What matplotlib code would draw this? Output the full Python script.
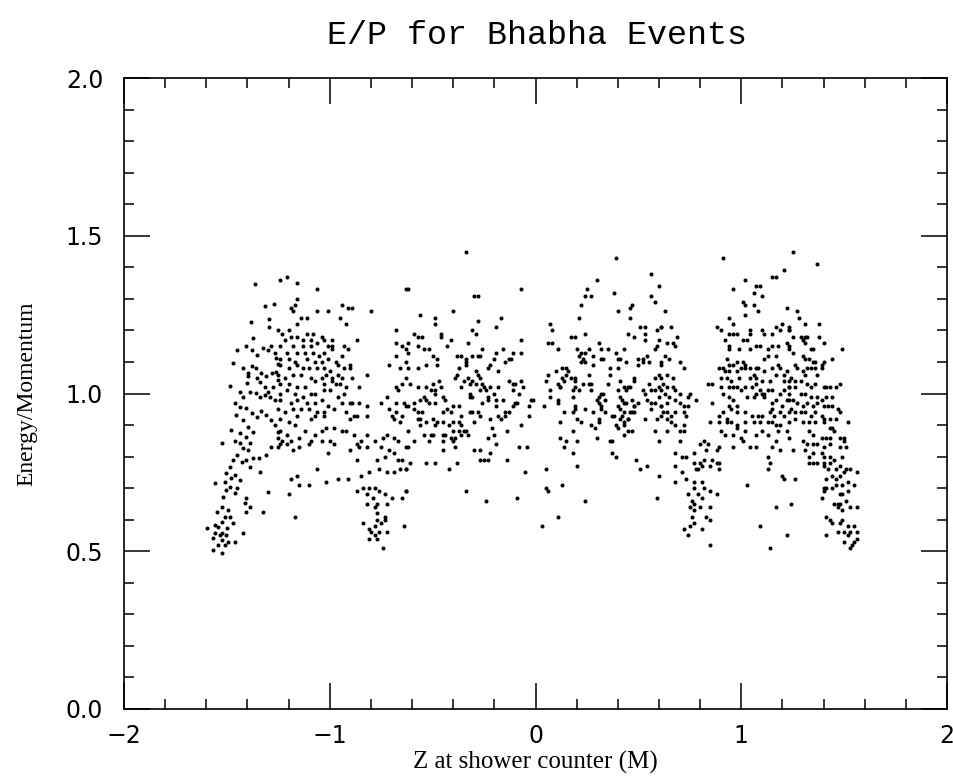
import numpy as np
import matplotlib.pyplot as plt
from matplotlib.ticker import MultipleLocator, FormatStrFormatter

# (Z [m], E/P), band by band from left to right
band1 = [(-1.364, 1.347), (-1.316, 1.276), (-1.272, 1.283), (-1.296, 1.235), (-1.296, 1.210), (-1.385, 1.226),
         (-1.372, 1.177), (-1.453, 1.138), (-1.405, 1.151), (-1.380, 1.138), (-1.356, 1.122), (-1.324, 1.143),
         (-1.300, 1.138), (-1.288, 1.151), (-1.267, 1.128), (-1.262, 1.112), (-1.251, 1.094), (-1.470, 1.096),
         (-1.424, 1.080), (-1.397, 1.066), (-1.376, 1.087), (-1.359, 1.082), (-1.332, 1.064), (-1.308, 1.054),
         (-1.283, 1.064), (-1.259, 1.069), (-1.397, 1.054), (-1.402, 1.032), (-1.486, 1.025), (-1.356, 1.048),
         (-1.340, 1.038), (-1.316, 1.022), (-1.300, 1.006), (-1.275, 1.022), (-1.251, 1.043), (-1.437, 1.006),
         (-1.421, 0.990), (-1.389, 1.006), (-1.359, 1.001), (-1.340, 0.990), (-1.316, 0.995), (-1.292, 0.990),
         (-1.267, 0.980), (-1.461, 0.969), (-1.437, 0.958), (-1.405, 0.953), (-1.380, 0.937), (-1.356, 0.927),
         (-1.332, 0.943), (-1.308, 0.932), (-1.288, 0.916), (-1.267, 0.900), (-1.251, 0.879), (-1.421, 0.916),
         (-1.397, 0.895), (-1.372, 0.879), (-1.457, 0.932), (-1.478, 0.885), (-1.437, 0.874), (-1.405, 0.863),
         (-1.389, 0.842), (-1.437, 0.842), (-1.461, 0.848), (-1.523, 0.842), (-1.421, 0.826), (-1.397, 0.821),
         (-1.453, 0.805), (-1.405, 0.789), (-1.372, 0.795), (-1.343, 0.795), (-1.311, 0.805), (-1.288, 0.832),
         (-1.251, 0.832), (-1.470, 0.789), (-1.486, 0.768), (-1.429, 0.784), (-1.389, 0.768), (-1.340, 0.752),
         (-1.502, 0.747), (-1.461, 0.742), (-1.478, 0.731), (-1.437, 0.726), (-1.510, 0.721), (-1.486, 0.705),
         (-1.453, 0.700), (-1.558, 0.716), (-1.502, 0.694), (-1.461, 0.684), (-1.405, 0.668), (-1.518, 0.673),
         (-1.300, 0.689), (-1.413, 0.652), (-1.389, 0.641), (-1.324, 0.626), (-1.526, 0.641), (-1.494, 0.631),
         (-1.405, 0.626), (-1.550, 0.626), (-1.510, 0.610), (-1.486, 0.610), (-1.526, 0.594), (-1.558, 0.583),
         (-1.542, 0.578), (-1.499, 0.573), (-1.470, 0.589), (-1.599, 0.573), (-1.558, 0.557), (-1.526, 0.557),
         (-1.502, 0.552), (-1.421, 0.559), (-1.567, 0.541), (-1.526, 0.536), (-1.494, 0.530), (-1.461, 0.530),
         (-1.542, 0.520), (-1.510, 0.520), (-1.567, 0.504), (-1.526, 0.493), (-1.534, 0.552)]

band2 = [(-1.24, 1.36), (-1.21, 1.37), (-1.16, 1.35), (-1.06, 1.33), (-1.19, 1.27), (-1.18, 1.26), (-1.16, 1.30),
         (-1.17, 1.28), (-1.06, 1.26), (-1.01, 1.26), (-0.94, 1.28), (-0.91, 1.27), (-0.89, 1.27), (-0.95, 1.24),
         (-0.92, 1.22), (-0.80, 1.26), (-0.63, 1.33), (-1.14, 1.24), (-1.11, 1.24), (-1.16, 1.22),
         (-1.25, 1.20), (-1.23, 1.19), (-1.20, 1.20), (-1.19, 1.18), (-1.16, 1.18), (-1.11, 1.19), (-1.08, 1.19),
         (-1.04, 1.18), (-1.03, 1.17), (-1.22, 1.17), (-1.13, 1.17), (-1.09, 1.17), (-0.99, 1.17), (-0.87, 1.17),
         (-0.68, 1.20), (-1.24, 1.15), (-1.18, 1.15), (-1.13, 1.15), (-1.09, 1.15), (-1.06, 1.16), (-1.01, 1.15),
         (-0.99, 1.15), (-0.99, 1.14), (-0.93, 1.15), (-0.91, 1.14), (-1.21, 1.13), (-1.16, 1.13), (-1.12, 1.13),
         (-1.08, 1.13), (-1.05, 1.12), (-1.03, 1.13), (-0.94, 1.12), (-0.68, 1.16), (-0.65, 1.15), (-0.63, 1.14),
         (-0.68, 1.12), (-1.24, 1.11), (-1.20, 1.11), (-1.17, 1.10), (-1.11, 1.11), (-1.07, 1.10), (-1.04, 1.10),
         (-1.01, 1.11), (-0.97, 1.10), (-0.90, 1.09), (-1.24, 1.09), (-1.20, 1.08), (-1.16, 1.09), (-1.13, 1.08),
         (-1.10, 1.08), (-1.06, 1.08), (-1.03, 1.08), (-1.00, 1.07), (-0.96, 1.09), (-0.93, 1.08), (-0.90, 1.08),
         (-0.82, 1.06), (-0.71, 1.09), (-0.66, 1.08), (-0.63, 1.10), (-0.96, 1.06), (-1.25, 1.06), (-1.22, 1.05),
         (-1.18, 1.06), (-1.14, 1.06), (-1.09, 1.05), (-1.04, 1.05), (-1.02, 1.06), (-0.99, 1.05), (-0.94, 1.05),
         (-0.89, 1.05), (-1.24, 1.03), (-1.20, 1.03), (-1.16, 1.02), (-1.12, 1.02), (-1.07, 1.04), (-1.03, 1.03),
         (-0.99, 1.04), (-0.97, 1.03), (-0.95, 1.03), (-0.92, 1.02), (-0.86, 1.02), (-0.68, 1.02), (-0.67, 1.01),
         (-0.63, 1.05), (-0.65, 1.03), (-1.24, 1.00), (-1.21, 1.01), (-1.17, 1.00), (-1.13, 0.99), (-1.09, 1.00),
         (-1.07, 1.00), (-1.03, 1.01), (-1.00, 1.01), (-0.96, 0.99), (-0.93, 1.00), (-0.90, 0.97), (-0.89, 0.97),
         (-0.86, 0.97), (-0.82, 0.96), (-1.24, 0.98), (-1.19, 0.97), (-1.16, 0.98), (-1.11, 0.97), (-1.07, 0.97),
         (-1.04, 0.98), (-1.01, 0.96), (-0.94, 0.97), (-0.75, 0.97), (-0.72, 0.99), (-0.68, 0.97), (-0.64, 0.97),
         (-1.25, 0.95), (-1.22, 0.94), (-1.18, 0.95), (-1.14, 0.95), (-1.10, 0.95), (-1.06, 0.94), (-1.03, 0.94),
         (-0.98, 0.95), (-0.92, 0.94), (-0.87, 0.93), (-1.24, 0.92), (-1.20, 0.91), (-1.16, 0.93), (-1.09, 0.92),
         (-1.07, 0.93), (-1.03, 0.93), (-0.90, 0.92), (-0.88, 0.93), (-0.82, 0.93), (-0.71, 0.95), (-0.70, 0.93),
         (-0.68, 0.94), (-0.65, 0.93), (-0.63, 0.96), (-0.69, 0.92), (-0.66, 0.91), (-1.24, 0.88), (-1.21, 0.87),
         (-1.17, 0.90), (-1.12, 0.88), (-1.07, 0.87), (-1.04, 0.88), (-1.02, 0.89), (-0.98, 0.89), (-0.94, 0.88),
         (-0.88, 0.87), (-1.25, 0.86), (-1.23, 0.85), (-1.19, 0.85), (-1.15, 0.86), (-1.09, 0.85), (-1.10, 0.84),
         (-1.04, 0.85), (-1.00, 0.85), (-0.98, 0.84), (-0.92, 0.88), (-0.85, 0.85), (-0.82, 0.87), (-0.78, 0.85),
         (-0.74, 0.86), (-0.72, 0.87), (-0.69, 0.86), (-0.67, 0.85), (-0.63, 0.83), (-0.87, 0.84), (-0.75, 0.83),
         (-1.24, 0.84), (-1.21, 0.84), (-1.18, 0.82), (-1.15, 0.83), (-1.01, 0.81), (-0.90, 0.82), (-0.87, 0.79),
         (-0.86, 0.83), (-0.82, 0.83), (-0.77, 0.79), (-0.73, 0.80), (-0.71, 0.82), (-0.69, 0.81), (-0.67, 0.79),
         (-0.65, 0.79), (-1.06, 0.76), (-0.96, 0.73), (-0.91, 0.73), (-0.85, 0.74), (-0.81, 0.75), (-0.76, 0.76),
         (-0.72, 0.75), (-0.69, 0.75), (-0.66, 0.76), (-0.63, 0.76), (-1.16, 0.74), (-1.19, 0.73), (-1.15, 0.71),
         (-1.10, 0.71), (-1.02, 0.72), (-0.87, 0.69), (-0.84, 0.70), (-0.81, 0.70), (-0.78, 0.70), (-0.76, 0.69),
         (-0.73, 0.68), (-0.70, 0.67), (-0.65, 0.67), (-0.63, 0.69), (-1.20, 0.68), (-0.82, 0.68), (-0.79, 0.67),
         (-0.77, 0.65), (-0.72, 0.65), (-0.82, 0.65), (-0.78, 0.64), (-0.77, 0.62), (-0.73, 0.61), (-0.77, 0.60),
         (-0.75, 0.59), (-0.73, 0.60), (-0.84, 0.59), (-0.78, 0.58), (-1.17, 0.61), (-0.64, 0.58), (-0.81, 0.57),
         (-0.80, 0.56), (-0.78, 0.55), (-0.76, 0.56), (-0.72, 0.56), (-0.81, 0.54), (-0.77, 0.54), (-0.74, 0.51)]

band3 = [(-0.34, 1.45), (-0.62, 1.33), (-0.07, 1.33), (-0.30, 1.31), (-0.28, 1.31), (-0.40, 1.26), (-0.56, 1.25),
         (-0.49, 1.24), (-0.49, 1.22), (-0.17, 1.24), (-0.28, 1.23), (-0.19, 1.21), (-0.31, 1.20), (-0.29, 1.19),
         (-0.46, 1.19), (-0.46, 1.18), (-0.59, 1.19), (-0.57, 1.18), (-0.55, 1.18), (-0.41, 1.17), (-0.07, 1.17),
         (-0.62, 1.16), (-0.62, 1.13), (-0.57, 1.15), (-0.54, 1.14), (-0.52, 1.14), (-0.50, 1.12), (-0.43, 1.15),
         (-0.33, 1.16), (-0.26, 1.14), (-0.27, 1.12), (-0.28, 1.12), (-0.36, 1.12), (-0.38, 1.12), (-0.34, 1.11),
         (-0.34, 1.10), (-0.34, 1.09), (-0.31, 1.12), (-0.48, 1.11), (-0.16, 1.14), (-0.19, 1.13), (-0.11, 1.13),
         (-0.07, 1.13), (-0.13, 1.11), (-0.15, 1.10), (-0.12, 1.11), (-0.20, 1.11), (-0.22, 1.09), (-0.23, 1.08),
         (-0.62, 1.08), (-0.57, 1.08), (-0.53, 1.09), (-0.48, 1.09), (-0.37, 1.08), (-0.38, 1.06), (-0.29, 1.07),
         (-0.28, 1.06), (-0.27, 1.05), (-0.39, 1.05), (-0.33, 1.05), (-0.31, 1.04), (-0.18, 1.07), (-0.13, 1.04),
         (-0.11, 1.03), (-0.07, 1.04), (-0.06, 1.02), (-0.10, 1.03), (-0.61, 1.03), (-0.57, 1.02), (-0.53, 1.02),
         (-0.50, 1.03), (-0.47, 1.04), (-0.46, 1.02), (-0.51, 1.01), (-0.49, 1.00), (-0.49, 1.01), (-0.35, 1.04),
         (-0.36, 1.02), (-0.32, 1.03), (-0.29, 1.03), (-0.26, 1.03), (-0.25, 1.02), (-0.24, 1.01), (-0.22, 1.02),
         (-0.18, 1.02), (-0.11, 1.01), (-0.32, 1.00), (-0.31, 0.99), (-0.32, 0.99), (-0.27, 1.01), (-0.23, 0.99),
         (-0.20, 1.00), (-0.19, 0.98), (-0.23, 0.98), (-0.26, 0.97), (-0.19, 0.96), (-0.16, 0.98), (-0.08, 1.00),
         (-0.10, 0.97), (-0.11, 0.96), (-0.02, 0.98), (-0.62, 0.96), (-0.59, 0.97), (-0.56, 0.98), (-0.53, 0.98),
         (-0.52, 0.97), (-0.49, 0.97), (-0.45, 0.99), (-0.44, 0.98), (-0.54, 0.99), (-0.43, 0.95), (-0.45, 0.94),
         (-0.40, 0.96), (-0.37, 0.96), (-0.36, 0.93), (-0.32, 0.94), (-0.31, 0.94), (-0.28, 0.94), (-0.27, 0.93),
         (-0.30, 0.91), (-0.22, 0.92), (-0.18, 0.93), (-0.15, 0.94), (-0.13, 0.94), (-0.17, 0.92), (-0.21, 0.89),
         (-0.20, 0.87), (-0.15, 0.93), (-0.09, 0.97), (-0.59, 0.95), (-0.57, 0.94), (-0.55, 0.94), (-0.56, 0.92),
         (-0.57, 0.92), (-0.56, 0.90), (-0.53, 0.91), (-0.50, 0.92), (-0.48, 0.91), (-0.45, 0.91), (-0.41, 0.94),
         (-0.40, 0.91), (-0.42, 0.90), (-0.37, 0.91), (-0.36, 0.90), (-0.34, 0.88), (-0.37, 0.88), (-0.36, 0.87),
         (-0.35, 0.88), (-0.40, 0.88), (-0.39, 0.86), (-0.49, 0.90), (-0.62, 0.88), (-0.59, 0.85), (-0.54, 0.87),
         (-0.51, 0.87), (-0.50, 0.87), (-0.52, 0.85), (-0.45, 0.87), (-0.44, 0.87), (-0.45, 0.85), (-0.41, 0.86),
         (-0.40, 0.85), (-0.39, 0.83), (-0.33, 0.87), (-0.23, 0.86), (-0.19, 0.84), (-0.14, 0.88), (-0.03, 0.96),
         (-0.03, 0.93), (-0.07, 0.90), (-0.08, 0.83), (-0.04, 0.83), (-0.62, 0.83), (-0.63, 0.76), (-0.53, 0.78),
         (-0.49, 0.78), (-0.61, 0.78), (-0.45, 0.82), (-0.42, 0.76), (-0.38, 0.78), (-0.30, 0.82), (-0.27, 0.82),
         (-0.27, 0.79), (-0.25, 0.79), (-0.23, 0.79), (-0.22, 0.81), (-0.14, 0.79), (-0.05, 0.75), (-0.34, 0.69),
         (-0.24, 0.66), (-0.09, 0.67), (-0.63, 0.69)]

band4 = [(0.39, 1.43), (0.56, 1.38), (0.30, 1.36), (0.60, 1.34), (0.25, 1.33), (0.38, 1.32), (0.24, 1.31),
         (0.27, 1.31), (0.56, 1.31), (0.58, 1.29), (0.22, 1.28), (0.47, 1.28), (0.46, 1.27), (0.40, 1.26),
         (0.21, 1.24), (0.46, 1.24), (0.07, 1.22), (0.08, 1.20), (0.24, 1.19), (0.17, 1.18), (0.19, 1.18),
         (0.48, 1.18), (0.45, 1.19), (0.51, 1.21), (0.53, 1.21), (0.59, 1.20), (0.61, 1.21), (0.53, 1.19),
         (0.53, 1.17), (0.60, 1.17), (0.06, 1.16), (0.08, 1.16), (0.11, 1.14), (0.31, 1.16), (0.20, 1.14),
         (0.22, 1.13), (0.21, 1.12), (0.24, 1.13), (0.26, 1.14), (0.28, 1.12), (0.32, 1.14), (0.35, 1.14),
         (0.39, 1.13), (0.43, 1.14), (0.40, 1.11), (0.41, 1.11), (0.52, 1.11), (0.54, 1.12), (0.50, 1.11),
         (0.58, 1.14), (0.59, 1.15), (0.23, 1.11), (0.22, 1.10), (0.24, 1.10), (0.28, 1.09), (0.32, 1.11),
         (0.33, 1.11), (0.36, 1.08), (0.40, 1.08), (0.44, 1.10), (0.50, 1.09), (0.52, 1.10), (0.55, 1.10),
         (0.61, 1.10), (0.13, 1.08), (0.15, 1.08), (0.16, 1.07), (0.15, 1.06), (0.13, 1.05), (0.17, 1.05),
         (0.19, 1.05), (0.10, 1.07), (0.06, 1.06), (0.26, 1.06), (0.36, 1.06), (0.48, 1.04), (0.48, 1.05),
         (0.55, 1.03), (0.58, 1.05), (0.60, 1.06), (0.05, 1.04), (0.11, 1.03), (0.12, 1.02), (0.14, 1.04),
         (0.19, 1.04), (0.19, 1.02), (0.23, 1.03), (0.26, 1.03), (0.27, 1.03), (0.35, 1.03), (0.41, 1.04),
         (0.43, 1.02), (0.45, 1.02), (0.46, 1.02), (0.40, 1.01), (0.44, 1.01), (0.52, 1.01), (0.53, 1.00),
         (0.56, 1.01), (0.58, 1.01), (0.60, 1.02), (0.61, 1.01), (0.07, 1.01), (0.07, 0.99), (-0.01, 0.98),
         (0.12, 1.02), (0.18, 1.01), (0.21, 1.01), (0.27, 1.01), (0.32, 1.00), (0.31, 0.99), (0.33, 1.00),
         (0.34, 0.98), (0.30, 0.98), (0.31, 0.97), (0.32, 0.96), (0.41, 0.99), (0.42, 0.98), (0.43, 0.97),
         (0.40, 0.96), (0.44, 0.97), (0.47, 0.98), (0.48, 0.96), (0.50, 0.97), (0.54, 0.98), (0.56, 0.97),
         (0.58, 0.97), (0.60, 0.99), (0.61, 0.96), (0.04, 0.96), (0.11, 0.98), (0.11, 0.97), (0.18, 0.99),
         (0.19, 0.96), (0.14, 0.94), (0.18, 0.94), (0.19, 0.95), (0.24, 0.95), (0.28, 0.94), (0.32, 0.95),
         (0.34, 0.94), (0.41, 0.95), (0.42, 0.93), (0.43, 0.94), (0.45, 0.92), (0.46, 0.94), (0.47, 0.94),
         (0.48, 0.94), (0.48, 0.96), (0.53, 0.92), (0.56, 0.95), (0.59, 0.92), (0.61, 0.93), (0.20, 0.92),
         (0.22, 0.91), (0.27, 0.90), (0.29, 0.89), (0.31, 0.91), (0.31, 0.92), (0.37, 0.93), (0.38, 0.93),
         (0.41, 0.92), (0.43, 0.91), (0.43, 0.90), (0.40, 0.89), (0.45, 0.92), (0.45, 0.88), (0.47, 0.88),
         (0.43, 0.87), (0.39, 0.90), (0.12, 0.91), (0.18, 0.88), (0.20, 0.85), (0.30, 0.86), (0.36, 0.85),
         (0.37, 0.85), (0.12, 0.86), (0.15, 0.85), (0.14, 0.83), (0.18, 0.81), (0.20, 0.77), (0.58, 0.88),
         (0.60, 0.85), (0.37, 0.81), (0.39, 0.80), (0.49, 0.79), (0.51, 0.76), (0.54, 0.77), (0.60, 0.74),
         (0.05, 0.76), (0.13, 0.71), (0.05, 0.70), (0.06, 0.69), (0.24, 0.66), (0.59, 0.67), (0.11, 0.61),
         (0.03, 0.58)]

band5 = [(0.91, 1.43), (1.21, 1.39), (1.15, 1.37), (1.17, 1.37), (1.02, 1.36), (0.96, 1.33), (1.07, 1.34),
         (1.09, 1.34), (1.06, 1.32), (1.10, 1.31), (1.01, 1.29), (1.02, 1.28), (1.08, 1.26), (1.22, 1.27),
         (0.63, 1.26), (1.06, 1.28), (1.02, 1.25), (0.94, 1.24), (0.88, 1.21), (0.96, 1.22), (0.90, 1.20),
         (0.61, 1.21), (0.66, 1.21), (0.69, 1.18), (0.67, 1.16), (0.68, 1.15), (0.64, 1.16), (0.92, 1.17),
         (0.94, 1.19), (0.96, 1.19), (0.98, 1.19), (0.94, 1.15), (1.01, 1.17), (1.03, 1.17), (1.04, 1.19),
         (1.04, 1.20), (1.10, 1.20), (1.11, 1.19), (1.15, 1.19), (1.17, 1.21), (1.19, 1.20), (1.20, 1.22),
         (1.23, 1.21), (1.23, 1.20), (0.99, 1.14), (0.94, 1.14), (1.04, 1.14), (1.07, 1.15), (1.09, 1.15),
         (1.13, 1.14), (1.15, 1.15), (1.18, 1.15), (1.22, 1.16), (1.23, 1.15), (0.63, 1.12), (0.65, 1.11),
         (0.61, 1.09), (0.70, 1.10), (0.72, 1.08), (0.93, 1.11), (0.94, 1.09), (0.96, 1.09), (0.98, 1.10),
         (1.01, 1.10), (1.02, 1.09), (1.11, 1.11), (1.13, 1.12), (1.17, 1.12), (0.89, 1.08), (0.91, 1.08),
         (0.92, 1.07), (0.94, 1.07), (0.98, 1.07), (1.00, 1.08), (1.02, 1.08), (1.04, 1.08), (1.07, 1.08),
         (1.06, 1.06), (1.08, 1.08), (1.11, 1.07), (1.15, 1.08), (1.18, 1.09), (1.19, 1.08), (1.22, 1.07),
         (0.61, 1.05), (0.64, 1.06), (0.67, 1.05), (0.62, 1.03), (0.64, 1.02), (0.67, 1.02), (0.90, 1.05),
         (0.93, 1.05), (0.95, 1.04), (0.99, 1.05), (1.04, 1.05), (1.07, 1.05), (1.10, 1.04), (1.14, 1.04),
         (1.17, 1.06), (1.21, 1.06), (1.21, 1.04), (1.23, 1.04), (0.63, 1.00), (0.68, 1.01), (0.70, 1.00),
         (0.75, 1.00), (0.74, 0.99), (0.86, 1.03), (0.84, 1.03), (0.90, 1.02), (0.94, 1.02), (0.96, 1.02),
         (0.98, 1.02), (1.00, 1.01), (1.02, 1.02), (1.05, 1.02), (1.07, 1.03), (1.09, 1.01), (1.11, 1.00),
         (1.13, 1.01), (1.15, 1.01), (1.19, 1.00), (1.21, 1.01), (1.23, 1.02), (0.61, 0.96), (0.64, 0.97),
         (0.65, 0.99), (0.68, 0.98), (0.70, 0.97), (0.72, 0.96), (0.74, 0.96), (0.78, 0.98), (0.86, 0.97),
         (0.91, 1.00), (0.94, 0.99), (0.96, 0.98), (0.94, 0.96), (0.98, 0.96), (1.03, 0.99), (1.06, 0.99),
         (1.07, 1.00), (1.10, 1.00), (1.11, 0.99), (1.15, 0.97), (1.17, 0.98), (1.20, 0.96), (1.22, 0.98),
         (1.23, 0.98), (0.62, 0.94), (0.64, 0.94), (0.66, 0.93), (0.68, 0.94), (0.72, 0.94), (0.73, 0.93),
         (0.89, 0.93), (0.91, 0.94), (0.93, 0.92), (0.95, 0.95), (0.98, 0.94), (1.02, 0.94), (1.05, 0.93),
         (1.08, 0.93), (1.10, 0.93), (1.14, 0.94), (1.15, 0.95), (1.16, 0.93), (1.19, 0.94), (1.21, 0.93),
         (1.23, 0.94), (0.64, 0.92), (0.66, 0.91), (0.72, 0.90), (0.70, 0.88), (0.72, 0.88), (0.85, 0.91),
         (0.89, 0.91), (0.93, 0.91), (0.95, 0.91), (0.98, 0.90), (1.02, 0.91), (1.06, 0.91), (1.09, 0.91),
         (1.13, 0.91), (1.15, 0.91), (1.17, 0.90), (1.19, 0.90), (1.23, 0.91), (0.64, 0.88), (0.68, 0.90),
         (0.70, 0.85), (0.80, 0.84), (0.82, 0.85), (0.90, 0.88), (0.92, 0.87), (0.96, 0.87), (0.98, 0.89),
         (1.02, 0.88), (1.07, 0.87), (1.10, 0.88), (1.13, 0.87), (1.18, 0.88), (1.22, 0.88), (1.23, 0.86),
         (0.84, 0.84), (0.89, 0.83), (0.96, 0.83), (1.00, 0.86), (1.01, 0.85), (1.04, 0.83), (1.07, 0.83),
         (1.15, 0.83), (1.17, 0.85), (1.19, 0.82), (0.68, 0.81), (0.71, 0.80), (0.73, 0.80), (0.77, 0.81),
         (0.83, 0.82), (0.88, 0.82), (0.77, 0.78), (0.80, 0.78), (0.81, 0.77), (0.82, 0.79), (0.86, 0.79),
         (0.88, 0.78), (0.89, 0.78), (0.89, 0.76), (0.68, 0.77), (0.71, 0.75), (0.78, 0.76), (0.79, 0.76),
         (0.85, 0.77), (1.13, 0.80), (1.14, 0.78), (1.13, 0.76), (1.20, 0.74), (1.21, 0.73), (0.68, 0.72),
         (0.73, 0.73), (0.77, 0.72), (0.81, 0.72), (0.77, 0.70), (0.74, 0.68), (0.79, 0.68), (0.81, 0.67),
         (0.85, 0.69), (0.88, 0.68), (0.82, 0.70), (1.03, 0.71), (0.76, 0.66), (0.77, 0.65), (0.75, 0.64),
         (0.80, 0.64), (0.77, 0.63), (0.85, 0.64), (0.76, 0.61), (0.83, 0.61), (0.85, 0.60), (0.77, 0.59),
         (0.75, 0.58), (0.81, 0.57), (0.72, 0.57), (0.74, 0.55), (1.09, 0.58), (1.17, 0.64), (1.22, 0.55),
         (0.85, 0.52), (1.14, 0.51)]

band6 = [(1.25, 1.45), (1.37, 1.41), (1.27, 1.26), (1.28, 1.24), (1.38, 1.22), (1.31, 1.22), (1.23, 1.20),
         (1.25, 1.18), (1.29, 1.18), (1.31, 1.18), (1.32, 1.18), (1.30, 1.17), (1.31, 1.16), (1.38, 1.18),
         (1.40, 1.16), (1.34, 1.14), (1.35, 1.14), (1.49, 1.14), (1.23, 1.14), (1.25, 1.13), (1.30, 1.12),
         (1.31, 1.11), (1.33, 1.11), (1.35, 1.10), (1.36, 1.10), (1.39, 1.09), (1.40, 1.10), (1.44, 1.11),
         (1.26, 1.09), (1.27, 1.08), (1.30, 1.07), (1.32, 1.08), (1.34, 1.08), (1.36, 1.08), (1.39, 1.08),
         (1.31, 1.06), (1.37, 1.06), (1.24, 1.05), (1.26, 1.04), (1.29, 1.04), (1.32, 1.03), (1.34, 1.02),
         (1.36, 1.03), (1.40, 1.02), (1.41, 1.02), (1.43, 1.02), (1.46, 1.02), (1.48, 1.03), (1.23, 1.02),
         (1.26, 1.02), (1.29, 1.00), (1.31, 1.00), (1.34, 0.99), (1.37, 0.99), (1.39, 0.98), (1.41, 0.99),
         (1.44, 0.99), (1.23, 1.00), (1.25, 0.98), (1.27, 0.97), (1.30, 0.96), (1.32, 0.97), (1.35, 0.96),
         (1.37, 0.97), (1.40, 0.96), (1.42, 0.96), (1.44, 0.96), (1.47, 0.95), (1.48, 0.94), (1.24, 0.95),
         (1.26, 0.94), (1.29, 0.94), (1.31, 0.94), (1.34, 0.93), (1.36, 0.94), (1.39, 0.93), (1.40, 0.92),
         (1.43, 0.92), (1.46, 0.92), (1.52, 0.91), (1.26, 0.92), (1.30, 0.91), (1.33, 0.91), (1.36, 0.91),
         (1.40, 0.91), (1.43, 0.89), (1.44, 0.89), (1.33, 0.88), (1.35, 0.87), (1.39, 0.86), (1.41, 0.86),
         (1.43, 0.86), (1.45, 0.88), (1.48, 0.86), (1.50, 0.86), (1.50, 0.85), (1.30, 0.85), (1.32, 0.84),
         (1.35, 0.84), (1.37, 0.84), (1.40, 0.83), (1.43, 0.84), (1.48, 0.83), (1.51, 0.83), (1.25, 0.82),
         (1.31, 0.82), (1.33, 0.80), (1.35, 0.81), (1.39, 0.81), (1.40, 0.80), (1.43, 0.80), (1.45, 0.79),
         (1.49, 0.80), (1.33, 0.78), (1.35, 0.78), (1.37, 0.78), (1.40, 0.78), (1.43, 0.78), (1.40, 0.77),
         (1.42, 0.76), (1.46, 0.76), (1.48, 0.77), (1.51, 0.76), (1.53, 0.76), (1.56, 0.75), (1.50, 0.75),
         (1.41, 0.73), (1.44, 0.74), (1.46, 0.73), (1.48, 0.74), (1.52, 0.72), (1.55, 0.71), (1.26, 0.73),
         (1.40, 0.70), (1.41, 0.70), (1.44, 0.70), (1.46, 0.71), (1.49, 0.71), (1.40, 0.69), (1.39, 0.67),
         (1.48, 0.68), (1.49, 0.68), (1.52, 0.69), (1.24, 0.65), (1.45, 0.65), (1.47, 0.65), (1.48, 0.65),
         (1.51, 0.66), (1.53, 0.64), (1.56, 0.64), (1.47, 0.64), (1.49, 0.63), (1.41, 0.61), (1.43, 0.60),
         (1.48, 0.59), (1.49, 0.60), (1.44, 0.59), (1.52, 0.58), (1.55, 0.58), (1.47, 0.56), (1.50, 0.56),
         (1.53, 0.56), (1.56, 0.56), (1.52, 0.55), (1.41, 0.55), (1.50, 0.53), (1.55, 0.53), (1.56, 0.54),
         (1.54, 0.52), (1.53, 0.51)]

bands = [band1, band2, band3, band4, band5, band6]
z = np.array([p[0] for b in bands for p in b])
ep = np.array([p[1] for b in bands for p in b])

fig = plt.figure(figsize=(9.54, 7.78), dpi=100)
ax = fig.add_axes([0.130, 0.0887, 0.8627, 0.811])

ax.plot(z, ep, 'o', color='black', ms=2.9, mew=0)

ax.set_xlim(-2, 2)
ax.set_ylim(0, 2)
ax.xaxis.set_major_locator(MultipleLocator(1))
ax.xaxis.set_minor_locator(MultipleLocator(0.2))
ax.yaxis.set_major_locator(MultipleLocator(0.5))
ax.yaxis.set_minor_locator(MultipleLocator(0.1))
ax.yaxis.set_major_formatter(FormatStrFormatter('%.1f'))

ax.tick_params(which='both', direction='in', top=True, right=True, width=1.1, color='black')
ax.tick_params(which='major', length=19)
ax.tick_params(which='minor', length=7)
ax.tick_params(axis='x', which='major', pad=11, labelsize=17)
ax.tick_params(axis='y', which='major', pad=15, labelsize=17)
for s in ax.spines.values():
    s.set_linewidth(1.2)

ax.set_xlabel('Z at shower counter (M)', family='Liberation Serif', fontsize=18, labelpad=2)
ax.set_ylabel('Energy/Momentum', family='Liberation Serif', fontsize=17, labelpad=20)
fig.text(0.563, 0.955, 'E/P for Bhabha Events', family='Liberation Mono', fontsize=24,
         ha='center', va='center')

fig.savefig('out.png', dpi=100)
